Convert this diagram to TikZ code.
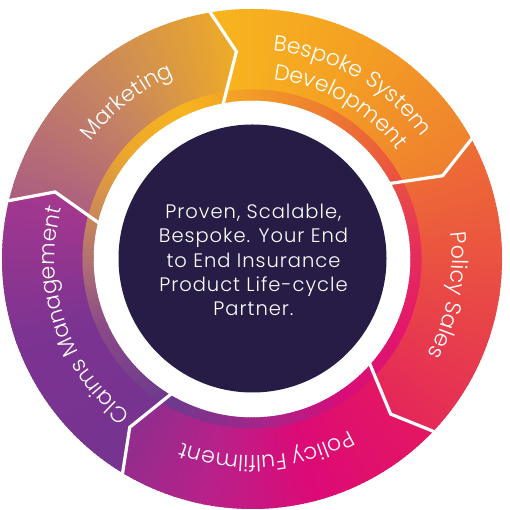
\documentclass[tikz,border=0pt]{standalone}
\usepackage{fontspec}
\setmainfont{Poppins}[UprightFont=* Light]
\usetikzlibrary{decorations.text}
% ring colours
\definecolor{mkA}{HTML}{A95886}\definecolor{mkB}{HTML}{C68462}\definecolor{mkC}{HTML}{F2B020}
\definecolor{bsA}{HTML}{F8B71C}\definecolor{bsB}{HTML}{F4A024}\definecolor{bsC}{HTML}{EE7C30}
\definecolor{psA}{HTML}{EE7033}\definecolor{psB}{HTML}{E94A45}\definecolor{psC}{HTML}{E4235C}
\definecolor{pfA}{HTML}{E5195F}\definecolor{pfB}{HTML}{DC0A77}\definecolor{pfC}{HTML}{B8218A}\definecolor{pfD}{HTML}{8A2F8E}
\definecolor{cmA}{HTML}{75338F}\definecolor{cmB}{HTML}{7C3391}\definecolor{cmC}{HTML}{A8388F}
% inner rim colours
\definecolor{ib1}{HTML}{6C3A8E}\definecolor{ib2}{HTML}{8A4A88}\definecolor{ib3}{HTML}{B27272}
\definecolor{ib4}{HTML}{D38F50}\definecolor{ib5}{HTML}{EDA72C}\definecolor{ib6}{HTML}{F7B41E}
\definecolor{ib7}{HTML}{F3A026}\definecolor{ib8}{HTML}{EE7D30}\definecolor{ib9}{HTML}{EB583D}
\definecolor{ib10}{HTML}{E5305A}\definecolor{ib11}{HTML}{E3176B}\definecolor{ib12}{HTML}{D80D79}
\definecolor{ib13}{HTML}{A8248A}
\definecolor{corecol}{HTML}{261C46}
\newcommand\arcramp[6]{%
  \pgfmathtruncatemacro\rN{max(1,round(abs(#2-#1)))}%
  \foreach \i in {0,...,\rN}{%
    \pgfmathsetmacro\ra{#1+(#2-#1)*\i/\rN}%
    \pgfmathsetmacro\rb{#1+(#2-#1)*(\i+1.6)/\rN}%
    \pgfmathtruncatemacro\rp{round(100*\i/\rN)}%
    \fill[#4!\rp!#3] (\ra:#5) arc[start angle=\ra, end angle=\rb, radius=#5] -- (\rb:#6) arc[start angle=\rb, end angle=\ra, radius=#6] -- cycle;
  }%
}
\newcommand\lblfont{\fontsize{22}{22}\selectfont\color{white}}
\tikzset{
  divider/.style={draw=white, line width=3.2pt, line join=miter},
  arclabel/.style={decorate, decoration={text along path, text={|\lblfont|#1}, text align=center}}
}
\begin{document}
\begin{tikzpicture}[x=1pt,y=1pt]
\useasboundingbox (0,0) rectangle (510,510);
\fill[white] (0,0) rectangle (510,510);
\begin{scope}[shift={(252,251)}]
  % Marketing
  \begin{scope}
    \clip (0,0) -- (167.1:159) -- (161.2:208) -- (166.9:250) -- (166.9:275) arc[start angle=166.9, end angle=100, radius=275] -- (100:250) -- (94.3:208) -- (101:159) -- cycle;
    \arcramp{171}{133}{mkA}{mkB}{163}{250}
    \arcramp{133}{91}{mkB}{mkC}{163}{250}
  \end{scope}
  % Bespoke System Development
  \begin{scope}
    \clip (0,0) -- (101:159) -- (94.3:208) -- (100:250) -- (100:275) arc[start angle=100, end angle=29, radius=275] -- (29:250) -- (23.6:208) -- (29:159) -- cycle;
    \arcramp{103}{64}{bsA}{bsB}{163}{250}
    \arcramp{64}{21}{bsB}{bsC}{163}{250}
  \end{scope}
  % Policy Sales
  \begin{scope}
    \clip (0,0) -- (29:159) -- (23.6:208) -- (29:250) -- (29:275) arc[start angle=29, end angle=-43.2, radius=275] -- (-43.2:250) -- (-48.2:208) -- (-41.2:159) -- cycle;
    \arcramp{31}{-8}{psA}{psB}{163}{250}
    \arcramp{-8}{-50}{psB}{psC}{163}{250}
  \end{scope}
  % Policy Fulfilment
  \begin{scope}
    \clip (0,0) -- (-41.2:159) -- (-48.2:208) -- (-43.2:250) -- (-43.2:275) arc[start angle=-43.2, end angle=-120.8, radius=275] -- (-120.8:250) -- (-126:208) -- (-120.6:159) -- cycle;
    \arcramp{-39}{-75}{pfA}{pfB}{163}{250}
    \arcramp{-75}{-100}{pfB}{pfC}{163}{250}
    \arcramp{-100}{-128}{pfC}{pfD}{163}{250}
  \end{scope}
  % Claims Management
  \begin{scope}
    \clip (0,0) -- (-120.6:159) -- (-126:208) -- (-120.8:250) -- (-120.8:275) arc[start angle=-120.8, end angle=-193.1, radius=275] -- (-193.1:250) -- (-198.8:208) -- (-192.9:159) -- cycle;
    \arcramp{-118}{-160}{cmA}{cmB}{163}{250}
    \arcramp{-160}{-200}{cmB}{cmC}{163}{250}
  \end{scope}
  % inner rim
  \arcramp{240}{205}{ib1}{ib2}{158.5}{169.5}
  \arcramp{205}{180}{ib2}{ib3}{158.5}{169.5}
  \arcramp{180}{160}{ib3}{ib4}{158.5}{169.5}
  \arcramp{160}{140}{ib4}{ib5}{158.5}{169.5}
  \arcramp{140}{115}{ib5}{ib6}{158.5}{169.5}
  \arcramp{115}{95}{ib6}{ib7}{158.5}{169.5}
  \arcramp{95}{65}{ib7}{ib8}{158.5}{169.5}
  \arcramp{65}{35}{ib8}{ib9}{158.5}{169.5}
  \arcramp{35}{5}{ib9}{ib10}{158.5}{169.5}
  \arcramp{5}{-25}{ib10}{ib11}{158.5}{169.5}
  \arcramp{-25}{-55}{ib11}{ib12}{158.5}{169.5}
  \arcramp{-55}{-85}{ib12}{ib13}{158.5}{169.5}
  \arcramp{-85}{-120}{ib13}{ib1}{158.5}{169.5}
  % dividers
  \draw[divider] (100:254) -- (94.3:208) -- (101:155);
  \draw[divider] (29:254) -- (23.6:208) -- (29:155);
  \draw[divider] (-43.2:254) -- (-48.2:208) -- (-41.2:155);
  \draw[divider] (-120.8:254) -- (-126:208) -- (-120.6:155);
  \draw[divider] (166.9:254) -- (161.2:208) -- (167.1:155);
  % core
  \fill[corecol] (0.5,0.5) circle[radius=134];
  \node[text=white, align=center, font=\addfontfeature{LetterSpace=5}\fontsize{19.5}{24.3}\selectfont] (core) at (1.5,-1) {Proven, Scalable,\\Bespoke. Your End\\to End Insurance\\Product Life-cycle\\Partner.};
  % labels
  \path[arclabel=Marketing] (175:199) arc[start angle=175, end angle=82, radius=199];
  \path[arclabel=Bespoke System] (110:209) arc[start angle=110, end angle=10, radius=209];
  \path[arclabel=Development] (110:181) arc[start angle=110, end angle=10, radius=181];
  \path[arclabel=Policy Sales] (40:200) arc[start angle=40, end angle=-61, radius=200];
  \path[arclabel=Policy Fulfilment] (-35:197) arc[start angle=-35, end angle=-136.2, radius=197];
  \path[arclabel=Claims Management] (250:197) arc[start angle=250, end angle=147, radius=197];
\end{scope}
\end{tikzpicture}
\end{document}
